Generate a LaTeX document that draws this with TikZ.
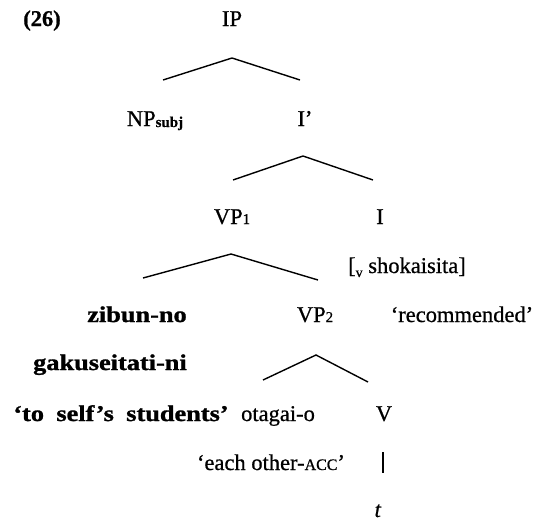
\documentclass[tikz,border=0pt]{standalone}
\usepackage{fontspec}
\setmainfont{Liberation Serif}[FakeBold=0.7]
\newfontfamily\jbf{Liberation Serif}[FakeStretch=1.17,BoldFeatures={FakeBold=1.2}]
\newcommand{\smallsub}[1]{{\fontsize{15}{15}\selectfont #1}}
\begin{document}
\begin{tikzpicture}[x=1pt,y=-1pt,
  lbl/.style={font=\fontsize{22.5}{27}\selectfont, inner sep=0pt, anchor=base},
  jp/.style={font=\fontsize{22.5}{27}\selectfont\jbf\bfseries, inner sep=0pt, anchor=base},
  br/.style={line width=1.4pt, line join=miter}]
\useasboundingbox[fill=white] (0,0) rectangle (538,522);
% labels
\node[lbl,font=\fontsize{22.5}{27}\selectfont\bfseries] (ex) at (42,26) {(26)};
\node[lbl] (ip) at (232,26) {IP};
\node[lbl] (np) at (155,126) {NP\raisebox{-1pt}{\fontsize{15}{15}\selectfont\bfseries subj}};
\node[lbl] (ibar) at (305,126) {I’};
\node[lbl] (vp1) at (232,224) {VP\smallsub{1}};
\node[lbl] (i) at (380,224) {I};
\node[lbl] (shok) at (407,273) {[\raisebox{-4pt}{\fontsize{14}{14}\selectfont v} shokaisita]};
\node[jp] (zib) at (137,322) {zibun-no};
\node[lbl] (vp2) at (315,322) {VP\smallsub{2}};
\node[lbl] (rec) at (462,322) {‘recommended’};
\node[jp] (gak) at (110,370) {gakuseitati-ni};
\node[jp] (self) at (121,421) {‘to\hspace{0.55em}self’s\hspace{0.55em}students’};
\node[lbl] (ota) at (278,421) {otagai-o};
\node[lbl] (v) at (384,421) {V};
\node[lbl] (each) at (271,470) {‘each other-{\fontsize{16}{16}\selectfont ACC}’};
\node[lbl] (t) at (378,517) {\textit{t}};
% branch points
\coordinate (ipA) at (232,58);
\coordinate (ipL) at (163,80);
\coordinate (ipR) at (300,80);
\coordinate (ibA) at (303,156);
\coordinate (ibL) at (233,180);
\coordinate (ibR) at (373,180);
\coordinate (v1A) at (231,254);
\coordinate (v1L) at (143,278);
\coordinate (v1R) at (318,280);
\coordinate (v2A) at (316,355);
\coordinate (v2L) at (263,380);
\coordinate (v2R) at (368,382);
\coordinate (vT) at (383,452);
\coordinate (vB) at (383,473);
\draw[br] (ipL) -- (ipA) -- (ipR);
\draw[br] (ibL) -- (ibA) -- (ibR);
\draw[br] (v1L) -- (v1A) -- (v1R);
\draw[br] (v2L) -- (v2A) -- (v2R);
\draw[line width=2.6pt] (vT) -- (vB);
\end{tikzpicture}
\end{document}
